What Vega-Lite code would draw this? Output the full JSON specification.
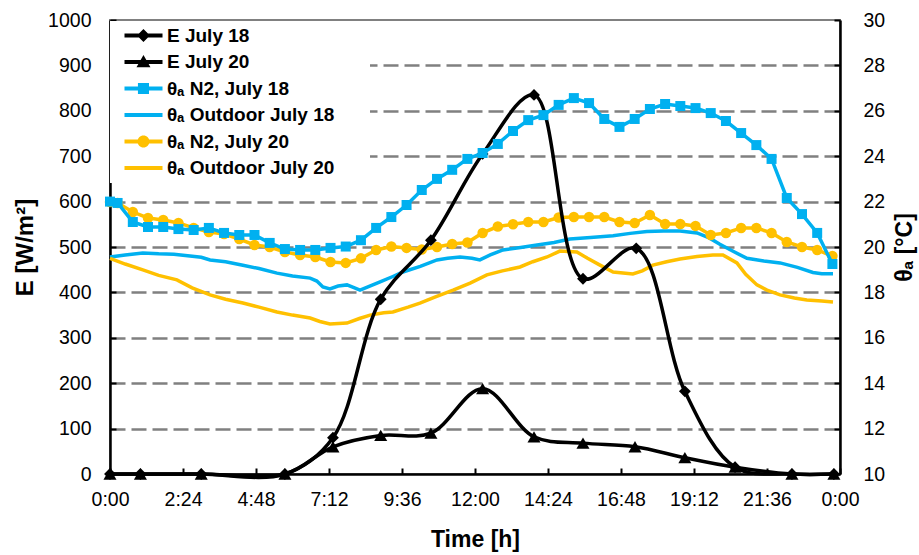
{
  "$schema": "https://vega.github.io/schema/vega-lite/v6.json",
  "width": 730,
  "height": 454,
  "autosize": {"type": "none"},
  "padding": {"left": 110, "top": 20, "right": 79, "bottom": 81},
  "background": "white",
  "config": {
    "view": {"stroke": "#808080", "strokeWidth": 2},
    "font": "Liberation Sans",
    "axis": {
      "labelFont": "Liberation Sans", "labelFontSize": 19.5, "labelColor": "black",
      "titleFont": "Liberation Sans", "titleFontSize": 23, "titleFontWeight": "bold", "titleColor": "black",
      "domainColor": "black", "domainWidth": 2.5, "tickColor": "black", "tickWidth": 2, "tickSize": -6
    }
  },
  "datasets": {
    "d": [
      {"s":"E18","t":0,"v":0},{"s":"E18","t":1,"v":0},{"s":"E18","t":3,"v":0},{"s":"E18","t":5.75,"v":0},{"s":"E18","t":7.33,"v":80},{"s":"E18","t":8.9,"v":385},{"s":"E18","t":10.55,"v":515},{"s":"E18","t":12.25,"v":705},{"s":"E18","t":13.94,"v":835},{"s":"E18","t":15.55,"v":430},{"s":"E18","t":17.3,"v":497},{"s":"E18","t":18.9,"v":182},{"s":"E18","t":20.55,"v":15},{"s":"E18","t":22.42,"v":0},{"s":"E18","t":23.8,"v":0},
      {"s":"E20","t":0,"v":0},{"s":"E20","t":1,"v":0},{"s":"E20","t":3,"v":0},{"s":"E20","t":5.75,"v":0},{"s":"E20","t":7.33,"v":60},{"s":"E20","t":8.9,"v":85},{"s":"E20","t":10.55,"v":90},{"s":"E20","t":12.25,"v":188},{"s":"E20","t":13.94,"v":82},{"s":"E20","t":15.55,"v":68},{"s":"E20","t":17.26,"v":60},{"s":"E20","t":18.9,"v":36},{"s":"E20","t":20.55,"v":15},{"s":"E20","t":22.42,"v":0},{"s":"E20","t":23.8,"v":0},
      {"s":"N18","t":0,"v":22.0},{"s":"N18","t":0.25,"v":21.94},{"s":"N18","t":0.75,"v":21.1},{"s":"N18","t":1.25,"v":20.88},{"s":"N18","t":1.75,"v":20.88},{"s":"N18","t":2.25,"v":20.79},{"s":"N18","t":2.75,"v":20.75},{"s":"N18","t":3.25,"v":20.84},{"s":"N18","t":3.75,"v":20.62},{"s":"N18","t":4.25,"v":20.53},{"s":"N18","t":4.75,"v":20.53},{"s":"N18","t":5.25,"v":20.18},{"s":"N18","t":5.75,"v":19.91},{"s":"N18","t":6.25,"v":19.87},{"s":"N18","t":6.75,"v":19.87},{"s":"N18","t":7.25,"v":19.96},{"s":"N18","t":7.75,"v":20.02},{"s":"N18","t":8.25,"v":20.3},{"s":"N18","t":8.75,"v":20.84},{"s":"N18","t":9.25,"v":21.32},{"s":"N18","t":9.75,"v":21.85},{"s":"N18","t":10.25,"v":22.51},{"s":"N18","t":10.75,"v":23.0},{"s":"N18","t":11.25,"v":23.4},{"s":"N18","t":11.75,"v":23.88},{"s":"N18","t":12.25,"v":24.14},{"s":"N18","t":12.75,"v":24.54},{"s":"N18","t":13.25,"v":25.11},{"s":"N18","t":13.75,"v":25.59},{"s":"N18","t":14.25,"v":25.81},{"s":"N18","t":14.75,"v":26.26},{"s":"N18","t":15.25,"v":26.56},{"s":"N18","t":15.75,"v":26.34},{"s":"N18","t":16.25,"v":25.64},{"s":"N18","t":16.75,"v":25.29},{"s":"N18","t":17.25,"v":25.64},{"s":"N18","t":17.75,"v":26.08},{"s":"N18","t":18.25,"v":26.3},{"s":"N18","t":18.75,"v":26.21},{"s":"N18","t":19.25,"v":26.12},{"s":"N18","t":19.75,"v":25.9},{"s":"N18","t":20.25,"v":25.55},{"s":"N18","t":20.75,"v":25.02},{"s":"N18","t":21.25,"v":24.49},{"s":"N18","t":21.75,"v":23.88},{"s":"N18","t":22.25,"v":22.16},{"s":"N18","t":22.75,"v":21.45},{"s":"N18","t":23.25,"v":20.62},{"s":"N18","t":23.75,"v":19.25},
      {"s":"O18","t":0,"v":19.56},{"s":"O18","t":0.5,"v":19.65},{"s":"O18","t":1.08,"v":19.74},{"s":"O18","t":1.6,"v":19.7},{"s":"O18","t":2.1,"v":19.68},{"s":"O18","t":2.63,"v":19.6},{"s":"O18","t":3.0,"v":19.55},{"s":"O18","t":3.29,"v":19.43},{"s":"O18","t":3.8,"v":19.35},{"s":"O18","t":4.37,"v":19.2},{"s":"O18","t":4.9,"v":19.05},{"s":"O18","t":5.49,"v":18.85},{"s":"O18","t":6.0,"v":18.72},{"s":"O18","t":6.58,"v":18.63},{"s":"O18","t":6.8,"v":18.5},{"s":"O18","t":7.0,"v":18.24},{"s":"O18","t":7.23,"v":18.15},{"s":"O18","t":7.5,"v":18.28},{"s":"O18","t":7.79,"v":18.33},{"s":"O18","t":8.0,"v":18.22},{"s":"O18","t":8.22,"v":18.1},{"s":"O18","t":8.5,"v":18.25},{"s":"O18","t":8.88,"v":18.46},{"s":"O18","t":9.3,"v":18.7},{"s":"O18","t":9.63,"v":18.9},{"s":"O18","t":10.2,"v":19.15},{"s":"O18","t":10.75,"v":19.43},{"s":"O18","t":11.1,"v":19.5},{"s":"O18","t":11.51,"v":19.56},{"s":"O18","t":11.9,"v":19.5},{"s":"O18","t":12.16,"v":19.43},{"s":"O18","t":12.5,"v":19.65},{"s":"O18","t":12.92,"v":19.87},{"s":"O18","t":13.5,"v":19.98},{"s":"O18","t":14.04,"v":20.09},{"s":"O18","t":14.6,"v":20.2},{"s":"O18","t":15.12,"v":20.35},{"s":"O18","t":15.8,"v":20.42},{"s":"O18","t":16.54,"v":20.5},{"s":"O18","t":17.1,"v":20.6},{"s":"O18","t":17.65,"v":20.68},{"s":"O18","t":18.2,"v":20.7},{"s":"O18","t":18.74,"v":20.7},{"s":"O18","t":19.3,"v":20.62},{"s":"O18","t":19.7,"v":20.4},{"s":"O18","t":20.05,"v":20.12},{"s":"O18","t":20.5,"v":19.8},{"s":"O18","t":20.94,"v":19.5},{"s":"O18","t":21.5,"v":19.38},{"s":"O18","t":22.03,"v":19.3},{"s":"O18","t":22.6,"v":19.1},{"s":"O18","t":23.11,"v":18.88},{"s":"O18","t":23.4,"v":18.82},{"s":"O18","t":23.77,"v":18.82},
      {"s":"N20","t":0,"v":21.98},{"s":"N20","t":0.25,"v":21.94},{"s":"N20","t":0.75,"v":21.54},{"s":"N20","t":1.25,"v":21.28},{"s":"N20","t":1.75,"v":21.19},{"s":"N20","t":2.25,"v":21.06},{"s":"N20","t":2.75,"v":20.84},{"s":"N20","t":3.25,"v":20.66},{"s":"N20","t":3.75,"v":20.57},{"s":"N20","t":4.25,"v":20.35},{"s":"N20","t":4.75,"v":20.09},{"s":"N20","t":5.25,"v":20.0},{"s":"N20","t":5.75,"v":19.78},{"s":"N20","t":6.25,"v":19.65},{"s":"N20","t":6.75,"v":19.56},{"s":"N20","t":7.25,"v":19.34},{"s":"N20","t":7.75,"v":19.3},{"s":"N20","t":8.25,"v":19.5},{"s":"N20","t":8.75,"v":19.87},{"s":"N20","t":9.25,"v":20.02},{"s":"N20","t":9.75,"v":19.96},{"s":"N20","t":10.25,"v":19.89},{"s":"N20","t":10.75,"v":20.0},{"s":"N20","t":11.25,"v":20.13},{"s":"N20","t":11.75,"v":20.2},{"s":"N20","t":12.25,"v":20.62},{"s":"N20","t":12.75,"v":20.9},{"s":"N20","t":13.25,"v":21.0},{"s":"N20","t":13.75,"v":21.1},{"s":"N20","t":14.25,"v":21.1},{"s":"N20","t":14.75,"v":21.3},{"s":"N20","t":15.25,"v":21.32},{"s":"N20","t":15.75,"v":21.32},{"s":"N20","t":16.25,"v":21.32},{"s":"N20","t":16.75,"v":21.1},{"s":"N20","t":17.25,"v":21.06},{"s":"N20","t":17.75,"v":21.41},{"s":"N20","t":18.25,"v":21.01},{"s":"N20","t":18.75,"v":21.01},{"s":"N20","t":19.25,"v":20.93},{"s":"N20","t":19.75,"v":20.53},{"s":"N20","t":20.25,"v":20.62},{"s":"N20","t":20.75,"v":20.84},{"s":"N20","t":21.25,"v":20.84},{"s":"N20","t":21.75,"v":20.62},{"s":"N20","t":22.25,"v":20.22},{"s":"N20","t":22.75,"v":20.0},{"s":"N20","t":23.25,"v":19.87},{"s":"N20","t":23.75,"v":19.6},
      {"s":"O20","t":0,"v":19.5},{"s":"O20","t":0.5,"v":19.25},{"s":"O20","t":1.08,"v":18.99},{"s":"O20","t":1.6,"v":18.75},{"s":"O20","t":2.2,"v":18.55},{"s":"O20","t":2.7,"v":18.2},{"s":"O20","t":3.29,"v":17.89},{"s":"O20","t":3.8,"v":17.7},{"s":"O20","t":4.37,"v":17.53},{"s":"O20","t":4.9,"v":17.35},{"s":"O20","t":5.49,"v":17.14},{"s":"O20","t":6.0,"v":17.0},{"s":"O20","t":6.58,"v":16.87},{"s":"O20","t":6.9,"v":16.72},{"s":"O20","t":7.23,"v":16.61},{"s":"O20","t":7.79,"v":16.65},{"s":"O20","t":8.2,"v":16.85},{"s":"O20","t":8.55,"v":17.0},{"s":"O20","t":9.0,"v":17.1},{"s":"O20","t":9.3,"v":17.14},{"s":"O20","t":9.8,"v":17.35},{"s":"O20","t":10.19,"v":17.53},{"s":"O20","t":10.7,"v":17.8},{"s":"O20","t":11.28,"v":18.1},{"s":"O20","t":11.84,"v":18.41},{"s":"O20","t":12.39,"v":18.77},{"s":"O20","t":12.9,"v":18.95},{"s":"O20","t":13.48,"v":19.12},{"s":"O20","t":13.9,"v":19.35},{"s":"O20","t":14.37,"v":19.56},{"s":"O20","t":14.79,"v":19.82},{"s":"O20","t":15.35,"v":19.78},{"s":"O20","t":15.7,"v":19.5},{"s":"O20","t":16.11,"v":19.2},{"s":"O20","t":16.54,"v":18.9},{"s":"O20","t":17.19,"v":18.81},{"s":"O20","t":17.5,"v":18.95},{"s":"O20","t":17.85,"v":19.2},{"s":"O20","t":18.3,"v":19.35},{"s":"O20","t":18.74,"v":19.47},{"s":"O20","t":19.3,"v":19.58},{"s":"O20","t":19.82,"v":19.65},{"s":"O20","t":20.15,"v":19.65},{"s":"O20","t":20.61,"v":19.3},{"s":"O20","t":20.9,"v":18.8},{"s":"O20","t":21.27,"v":18.33},{"s":"O20","t":21.6,"v":18.1},{"s":"O20","t":22.03,"v":17.89},{"s":"O20","t":22.5,"v":17.75},{"s":"O20","t":22.91,"v":17.67},{"s":"O20","t":23.4,"v":17.62},{"s":"O20","t":23.77,"v":17.58}
    ]
  },
  "data": {"name": "d"},
  "encoding": {
    "x": {
      "field": "t", "type": "quantitative",
      "scale": {"domain": [0, 24], "nice": false, "zero": false},
      "axis": {
        "values": [0, 2.4, 4.8, 7.2, 9.6, 12, 14.4, 16.8, 19.2, 21.6, 24],
        "labelExpr": "(floor(datum.value + 0.001) % 24) + ':' + (round((datum.value - floor(datum.value + 0.001)) * 60) < 10 ? '0' : '') + round((datum.value - floor(datum.value + 0.001)) * 60)",
        "title": "Time [h]", "grid": false, "titlePadding": 20, "labelPadding": 22, "labelFlush": false
      }
    },
    "color": {
      "field": "s", "type": "nominal",
      "scale": {"domain": ["E18", "E20", "N18", "O18", "N20", "O20"], "range": ["black", "black", "#00B0F0", "#00B0F0", "#FFC000", "#FFC000"]},
      "legend": {
        "orient": "none", "legendX": 0, "legendY": 1, "title": null,
        "padding": 5, "fillColor": "white", "strokeColor": null,
        "symbolSize": 196, "labelFont": "Liberation Sans", "labelFontSize": 19, "labelFontWeight": "bold", "labelColor": "black",
        "labelOffset": 33, "rowPadding": 6.5, "labelLimit": 500,
        "labelExpr": "datum.value === 'E18' ? 'E  July 18' : datum.value === 'E20' ? 'E  July 20' : datum.value === 'N18' ? 'θₐ N2, July 18' : datum.value === 'O18' ? 'θₐ Outdoor July 18' : datum.value === 'N20' ? 'θₐ N2, July 20' : 'θₐ Outdoor July 20'",
        "encode": {
          "symbols": {
            "update": {
              "shape": {"signal": "datum.value === 'E18' ? 'M0,-0.29H5.43V0.29H0Z M2.71,-0.93L3.64,0L2.71,0.93L1.78,0Z M34.3,0' : datum.value === 'E20' ? 'M0,-0.29H5.43V0.29H0Z M2.71,-1L3.71,0.75L1.71,0.75Z M34.3,0' : datum.value === 'N18' ? 'M0,-0.29H5.43V0.29H0Z M1.92,-0.79H3.5V0.79H1.92Z M34.3,0' : datum.value === 'N20' ? 'M0,-0.29H5.43V0.29H0Z M1.85,0A0.86,0.86 0 1,1 3.57,0A0.86,0.86 0 1,1 1.85,0Z M34.3,0' : 'M0,-0.29H5.43V0.29H0Z M34.3,0'"},
              "fill": {"signal": "(datum.value === 'E18' || datum.value === 'E20') ? 'black' : (datum.value === 'N18' || datum.value === 'O18') ? '#00B0F0' : '#FFC000'"},
              "fillOpacity": {"value": 1},
              "opacity": {"value": 1},
              "strokeWidth": {"value": 0}
            }
          }
        }
      }
    }
  },
  "layer": [
    {
      "transform": [{"filter": {"field": "s", "oneOf": ["O18", "O20", "N20"]}}],
      "encoding": {
        "y": {
          "field": "v", "type": "quantitative",
          "scale": {"domain": [10, 30], "nice": false, "zero": false},
          "axis": {"orient": "right", "values": [10, 12, 14, 16, 18, 20, 22, 24, 26, 28, 30], "title": "θₐ [°C]", "titleAngle": -90, "titleBaseline": "top", "grid": false, "labelPadding": 29, "titlePadding": 9}
        }
      },
      "layer": [
        {"mark": {"type": "line", "strokeWidth": 3.5}},
        {"transform": [{"filter": "datum.s === 'N20'"}], "mark": {"type": "point", "shape": "circle", "filled": true, "size": 110, "opacity": 1}}
      ]
    },
    {
      "transform": [{"filter": {"field": "s", "oneOf": ["E18", "E20"]}}],
      "encoding": {
        "y": {
          "field": "v", "type": "quantitative",
          "scale": {"domain": [0, 1000], "nice": false, "zero": false},
          "axis": {
            "orient": "left", "values": [0, 100, 200, 300, 400, 500, 600, 700, 800, 900, 1000], "format": "d", "title": "E [W/m²]", "titleFontSize": 24, "titlePadding": 10, "labelPadding": 25,
            "grid": true, "gridColor": "#808080", "gridWidth": 2.5, "gridDash": [15, 6],
            "gridOpacity": {"condition": {"test": "datum.value === 0 || datum.value === 1000", "value": 0}, "value": 1}
          }
        }
      },
      "layer": [
        {"mark": {"type": "line", "strokeWidth": 3.5, "interpolate": "catmull-rom"}},
        {"transform": [{"filter": "datum.s === 'E18'"}], "mark": {"type": "point", "shape": "diamond", "filled": true, "size": 140, "opacity": 1}},
        {"transform": [{"filter": "datum.s === 'E20'"}], "mark": {"type": "point", "shape": "triangle-up", "filled": true, "size": 170, "opacity": 1}}
      ]
    },
    {
      "transform": [{"filter": {"field": "s", "oneOf": ["N18"]}}],
      "encoding": {
        "y": {"field": "v", "type": "quantitative", "scale": {"domain": [10, 30], "nice": false, "zero": false}, "axis": null}
      },
      "layer": [
        {"mark": {"type": "line", "strokeWidth": 3.5}},
        {"mark": {"type": "point", "shape": "square", "filled": true, "size": 100, "opacity": 1}}
      ]
    }
  ],
  "resolve": {"scale": {"y": "independent"}}
}
